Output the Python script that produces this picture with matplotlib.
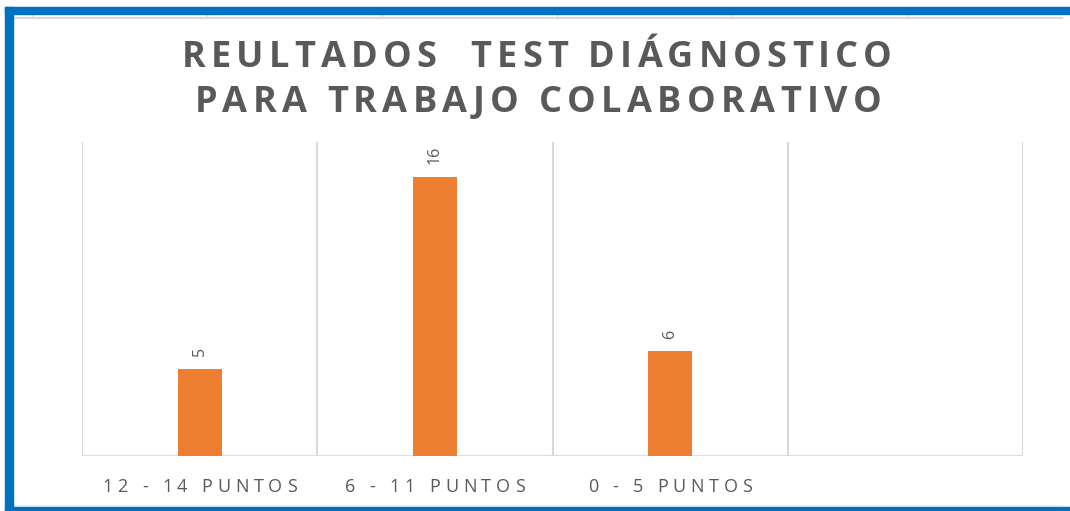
import matplotlib
matplotlib.use("Agg")
import matplotlib.pyplot as plt
from matplotlib.patches import Rectangle
from matplotlib.lines import Line2D

# data
categories = ["12 - 14 PUNTOS", "6 - 11 PUNTOS", "0 - 5 PUNTOS", ""]
values = [5, 16, 6]
title_lines = ["REULTADOS  TEST DIÁGNOSTICO", "PARA TRABAJO COLABORATIVO"]

W, H = 1070, 511
fig = plt.figure(figsize=(W / 100, H / 100), dpi=100)
plt.rcParams['font.family'] = ['Open Sans', 'DejaVu Sans']
renderer = fig.canvas.get_renderer()


def char_widths(s, **kw):
    t = fig.text(0, 0, "||", **kw)
    base = t.get_window_extent(renderer).width
    ws = []
    for c in s:
        t.set_text("|" + c + "|")
        ws.append(t.get_window_extent(renderer).width - base)
    t.remove()
    return ws


def spaced_text(s, xc, ybase, track=0, width=None, **kw):
    # draw text char by char to get the wide letter spacing
    ws = char_widths(s, **kw)
    if width is not None:
        track = (width - sum(ws)) / (len(s) - 1)
    total = sum(ws) + track * (len(s) - 1)
    x = xc - total / 2
    for c, w in zip(s, ws):
        fig.text(x / W, 1 - ybase / H, c, ha="left", va="baseline", **kw)
        x += w + track


# frame decorations
blue = "#0070C0"
fig.patches.append(Rectangle((5 / W, 0), 8 / W, 1 - 7 / H, transform=fig.transFigure, color=blue, zorder=5))
fig.patches.append(Rectangle((5 / W, 1 - 14 / H), 1, 7 / H, transform=fig.transFigure, color=blue, zorder=5))
fig.patches.append(Rectangle((5 / W, 0), 1, 4 / H, transform=fig.transFigure, color=blue, zorder=5))
fig.lines.append(Line2D([13 / W, 1062 / W], [1 - 18 / H] * 2, transform=fig.transFigure, color="#D9D9D9", lw=1.5))
fig.lines.append(Line2D([13 / W, 1062 / W], [6 / H] * 2, transform=fig.transFigure, color="#EEEEEE", lw=1.0))
for tx in [32, 207, 382, 557, 732, 907]:
    fig.lines.append(Line2D([tx / W] * 2, [1 - 18 / H, 1 - 15 / H], transform=fig.transFigure, color="#D9D9D9", lw=1.0))

# chart
ax = fig.add_axes([82 / W, (H - 456) / H, (1023 - 82) / W, (456 - 142) / H])
x = list(range(len(values)))
ax.bar(x, values, width=0.187, color="#ED7D31", zorder=3)
for i, v in zip(x, values):
    ax.annotate(str(v), (i, v), xytext=(0, 9), textcoords="offset points",
                rotation=90, ha="center", va="bottom", fontsize=11.5, color="#595959")

ax.set_xlim(-0.5, len(categories) - 0.5)
ax.set_ylim(0, 18)
for b in range(len(categories) + 1):
    ax.axvline(b - 0.5, color="#D9D9D9", lw=1.5, zorder=1)
ax.axhline(0, color="#D9D9D9", lw=2, zorder=2)
for s in ax.spines.values():
    s.set_visible(False)
ax.set_xticks([])
ax.set_yticks([])

# category labels
for i, lab in enumerate(categories):
    if lab:
        px = ax.transData.transform((i, 0))[0]
        spaced_text(lab, px, 492, track=4.8, fontsize=13, color="#595959")

# title
spaced_text(title_lines[0], 537, 67, width=710, fontsize=26, fontweight="bold", color="#595959")
spaced_text(title_lines[1], 538, 112, width=687, fontsize=26, fontweight="bold", color="#595959")

fig.savefig("out.png", dpi=100)
